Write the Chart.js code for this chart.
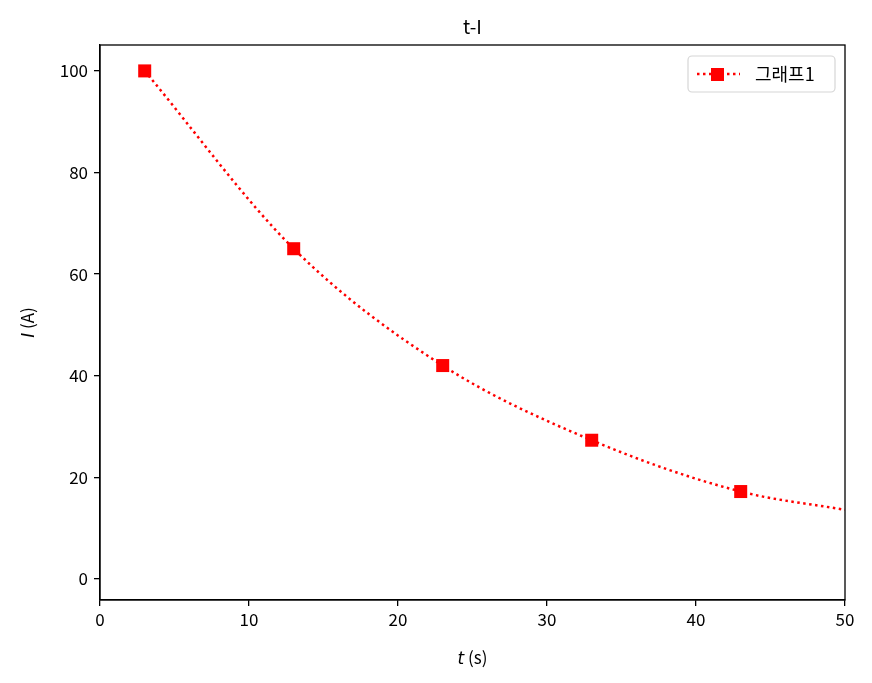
<!DOCTYPE html>
<html>
<head>
<meta charset="utf-8">
<script src="https://cdn.jsdelivr.net/npm/chart.js@4/dist/chart.umd.min.js"></script>
<style>
  body { margin: 0; background: #fff; }
  #wrap { width: 872px; height: 683px; }
</style>
</head>
<body>
<div id="wrap"><canvas id="chart" width="872" height="683"></canvas></div>
<script>
const FONT = "'Noto Sans CJK KR', 'DejaVu Sans', sans-serif";

// values
const timeValues = [3, 13, 23, 33, 43, 50];
const currentValues = [100, 65, 42, 27.3, 17.2, 13.6];
const markerShown = [true, true, true, true, true, false];
const xTicks = [0, 10, 20, 30, 40, 50];
const yTicks = [0, 20, 40, 60, 80, 100];
const seriesLabel = "그래프1";
const chartTitle = "t-I";

const points = timeValues.map((t, i) => ({ x: t, y: currentValues[i] }));

// titles, frame and legend drawn on top of the chart
const decorations = {
    id: "decorations",
    afterDraw(chart) {
        const ctx = chart.ctx;
        const area = chart.chartArea;
        ctx.save();

        // frame
        ctx.strokeStyle = "#000";
        ctx.lineWidth = 1.3;
        ctx.strokeRect(area.left, area.top, area.right - area.left, area.bottom - area.top);

        // title
        ctx.fillStyle = "#000";
        ctx.font = "19px " + FONT;
        ctx.textAlign = "center";
        ctx.textBaseline = "alphabetic";
        ctx.fillText(chartTitle, (area.left + area.right) / 2, 34);

        // axis titles: italic symbol + unit
        const drawMixed = (italicPart, rest, cx, baseY) => {
            ctx.textBaseline = "alphabetic";
            ctx.font = "italic 17px 'DejaVu Sans', sans-serif";
            const w1 = ctx.measureText(italicPart).width;
            ctx.font = "17px " + FONT;
            const w2 = ctx.measureText(" " + rest).width;
            const x0 = cx - (w1 + w2) / 2;
            ctx.textAlign = "left";
            ctx.font = "italic 17px 'DejaVu Sans', sans-serif";
            ctx.fillText(italicPart, x0, baseY);
            ctx.font = "17px " + FONT;
            ctx.fillText(" " + rest, x0 + w1, baseY);
        };
        drawMixed("t", "(s)", (area.left + area.right) / 2, 664);

        ctx.save();
        ctx.translate(34, (area.top + area.bottom) / 2);
        ctx.rotate(-Math.PI / 2);
        drawMixed("I", "(A)", 0, 0);
        ctx.restore();

        // legend
        const lx = 688, ly = 56, lw = 147, lh = 36;
        ctx.beginPath();
        ctx.roundRect(lx, ly, lw, lh, 4);
        ctx.fillStyle = "rgba(255,255,255,0.8)";
        ctx.fill();
        ctx.strokeStyle = "#d6d6d6";
        ctx.lineWidth = 1.2;
        ctx.stroke();

        const ds = chart.data.datasets[0];
        ctx.strokeStyle = ds.borderColor;
        ctx.lineWidth = ds.borderWidth;
        ctx.setLineDash(ds.borderDash);
        ctx.beginPath();
        ctx.moveTo(697, 74);
        ctx.lineTo(740, 74);
        ctx.stroke();
        ctx.setLineDash([]);
        ctx.fillStyle = ds.pointBackgroundColor;
        ctx.fillRect(711, 68, 13, 13);

        ctx.fillStyle = "#000";
        ctx.font = "18px " + FONT;
        ctx.textAlign = "left";
        ctx.textBaseline = "alphabetic";
        ctx.fillText(ds.label, 755, 81);

        ctx.restore();
    }
};

const ctx = document.getElementById("chart");

const myChart = new Chart(ctx, {
    type: "line",
    data: {
        datasets: [{
            label: seriesLabel,
            data: points,
            borderColor: "#ff0000",
            backgroundColor: "#ff0000",
            pointBackgroundColor: "#ff0000",
            pointBorderColor: "#ff0000",
            borderWidth: 2.5,
            borderDash: [2.5, 3.5],
            pointStyle: "rect",
            pointRadius: markerShown.map(m => m ? 9.2 : 0),
            pointBorderWidth: 0,
            cubicInterpolationMode: "monotone",
            fill: false
        }]
    },
    options: {
        responsive: false,
        animation: false,
        layout: { padding: { left: 0, right: 27, top: 45, bottom: 0 } },
        plugins: {
            legend: { display: false },
            title: { display: false },
            tooltip: { enabled: false }
        },
        scales: {
            x: {
                type: "linear",
                min: 0,
                max: 50,
                afterBuildTicks: (scale) => { scale.ticks = xTicks.map(v => ({ value: v })); },
                afterFit: (scale) => { scale.height = 83; },
                grid: { display: true, drawOnChartArea: false, tickLength: 6, color: "#000", lineWidth: 1.3 },
                border: { display: true, color: "#000", width: 1.3 },
                ticks: { color: "#000", font: { family: FONT, size: 17 }, padding: 3, maxRotation: 0 }
            },
            y: {
                type: "linear",
                min: -4.15,
                max: 105.1,
                afterBuildTicks: (scale) => { scale.ticks = yTicks.map(v => ({ value: v })); },
                afterFit: (scale) => { scale.width = 100; },
                grid: { display: true, drawOnChartArea: false, tickLength: 6, color: "#000", lineWidth: 1.3 },
                border: { display: true, color: "#000", width: 1.3 },
                ticks: { color: "#000", font: { family: FONT, size: 17 }, padding: 6 }
            }
        }
    },
    plugins: [decorations]
});
</script>
</body>
</html>
